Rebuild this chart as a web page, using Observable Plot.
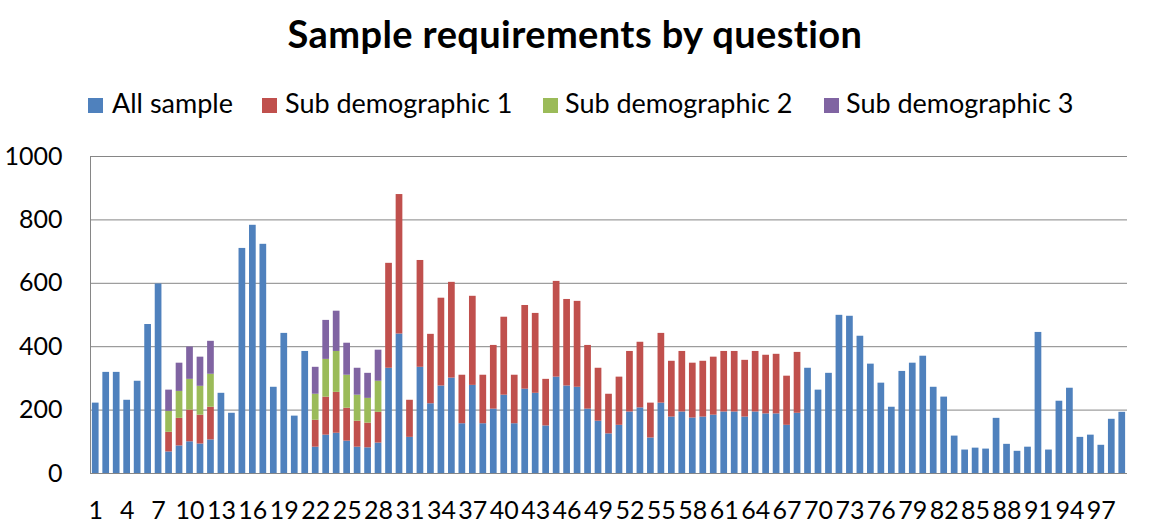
<!DOCTYPE html>
<html>
<head>
<meta charset="utf-8">
<script src="https://cdn.jsdelivr.net/npm/d3@7"></script>
<script src="https://cdn.jsdelivr.net/npm/@observablehq/plot@0.6"></script>
<style>
  html, body { margin: 0; padding: 0; background: #fff; }
  body { width: 1150px; height: 530px; position: relative; overflow: hidden; font-family: Lato, "Open Sans", sans-serif; }
  #title { position: absolute; left: 0; width: 1150px; top: 14px; text-align: center; font-weight: 700; font-size: 38px; line-height: 38px; letter-spacing: 0.4px; color: #000; white-space: nowrap; }
  .leg { position: absolute; top: 89px; font-size: 27px; line-height: 27px; color: #000; white-space: nowrap; }
  .sw { position: absolute; top: 98px; width: 15px; height: 15px; }
  #chart { position: absolute; left: 0; top: 130px; }
</style>
</head>
<body>
<div id="title">Sample requirements by question</div>
<div id="legend"></div>
<div id="chart"></div>
<script>
const questions = d3.range(1, 100);
const seriesNames = ["All sample", "Sub demographic 1", "Sub demographic 2", "Sub demographic 3"];
const seriesColors = ["#4F81BD", "#C0504D", "#9BBB59", "#8064A2"];
const yTicks = [0, 200, 400, 600, 800, 1000];
const xTickLabels = questions.filter((d, i) => i % 3 === 0);

const allSample = [222,319,319,231,291,470,598,68,87,100,
  93,106,253,190,710,783,723,272,442,181,
  385,83,121,127,102,83,81,96,332,440,
  114,335,220,276,301,157,278,157,203,247,
  157,266,253,150,304,276,272,203,165,125,
  152,194,207,112,222,178,194,175,178,184,
  194,194,178,194,188,188,152,190,332,263,
  316,499,496,433,345,285,209,322,348,370,
  272,241,118,74,80,77,174,92,70,83,
  445,74,228,269,114,121,89,171,193];
const subDemo1 = [0,0,0,0,0,0,0,62,87,100,
  91,103,0,0,0,0,0,0,0,0,
  0,85,120,129,104,82,78,97,331,440,
  117,337,219,277,302,153,281,153,201,246,
  153,264,252,147,302,273,271,201,167,125,
  152,191,207,110,220,176,191,173,176,183,
  191,191,179,191,185,188,155,192,0,0,
  0,0,0,0,0,0,0,0,0,0,
  0,0,0,0,0,0,0,0,0,0,
  0,0,0,0,0,0,0,0,0];
const subDemo2 = [0,0,0,0,0,0,0,66,85,97,
  91,104,0,0,0,0,0,0,0,0,
  0,82,119,129,104,82,78,98,0,0,
  0,0,0,0,0,0,0,0,0,0,
  0,0,0,0,0,0,0,0,0,0,
  0,0,0,0,0,0,0,0,0,0,
  0,0,0,0,0,0,0,0,0,0,
  0,0,0,0,0,0,0,0,0,0,
  0,0,0,0,0,0,0,0,0,0,
  0,0,0,0,0,0,0,0,0];
const subDemo3 = [0,0,0,0,0,0,0,67,89,102,
  92,104,0,0,0,0,0,0,0,0,
  0,85,123,127,101,85,79,98,0,0,
  0,0,0,0,0,0,0,0,0,0,
  0,0,0,0,0,0,0,0,0,0,
  0,0,0,0,0,0,0,0,0,0,
  0,0,0,0,0,0,0,0,0,0,
  0,0,0,0,0,0,0,0,0,0,
  0,0,0,0,0,0,0,0,0,0,
  0,0,0,0,0,0,0,0,0];

const seriesValues = [allSample, subDemo1, subDemo2, subDemo3];
const rows = [];
seriesValues.forEach((vals, si) => {
  questions.forEach((q, i) => {
    if (vals[i] > 0) rows.push({q, v: vals[i], s: seriesNames[si]});
  });
});

// legend
const legendPos = [{sw: 88, tx: 112}, {sw: 262, tx: 285}, {sw: 543, tx: 565}, {sw: 824, tx: 846}];
const legend = document.getElementById("legend");
seriesNames.forEach((name, i) => {
  const sw = document.createElement("div");
  sw.className = "sw";
  sw.style.left = legendPos[i].sw + "px";
  sw.style.background = seriesColors[i];
  legend.appendChild(sw);
  const t = document.createElement("div");
  t.className = "leg";
  t.style.left = legendPos[i].tx + "px";
  t.textContent = name;
  legend.appendChild(t);
});

const chart = Plot.plot({
  width: 1150,
  height: 400,
  marginLeft: 90,
  marginRight: 23,
  marginTop: 26,
  marginBottom: 57,
  style: {fontFamily: "Lato, 'Open Sans', sans-serif", fontSize: "25px", color: "#000", background: "#fff", overflow: "visible"},
  x: {type: "band", domain: questions, paddingInner: 0.36, paddingOuter: 0.18},
  y: {domain: [0, 1000]},
  color: {domain: seriesNames, range: seriesColors},
  marks: [
    Plot.gridY(yTicks, {stroke: "#868686", strokeOpacity: 1}),
    Plot.frame({anchor: "left", stroke: "#868686"}),
    Plot.barY(rows, {x: "q", y: "v", fill: "s", z: "s"}),
    Plot.axisX({ticks: xTickLabels, tickSize: 0, tickPadding: 28, fontSize: 25, label: null}),
    Plot.axisY({ticks: yTicks, tickSize: 0, tickPadding: 28, fontSize: 25, label: null, tickFormat: d => String(d)})
  ]
});
document.getElementById("chart").appendChild(chart);
</script>
</body>
</html>
